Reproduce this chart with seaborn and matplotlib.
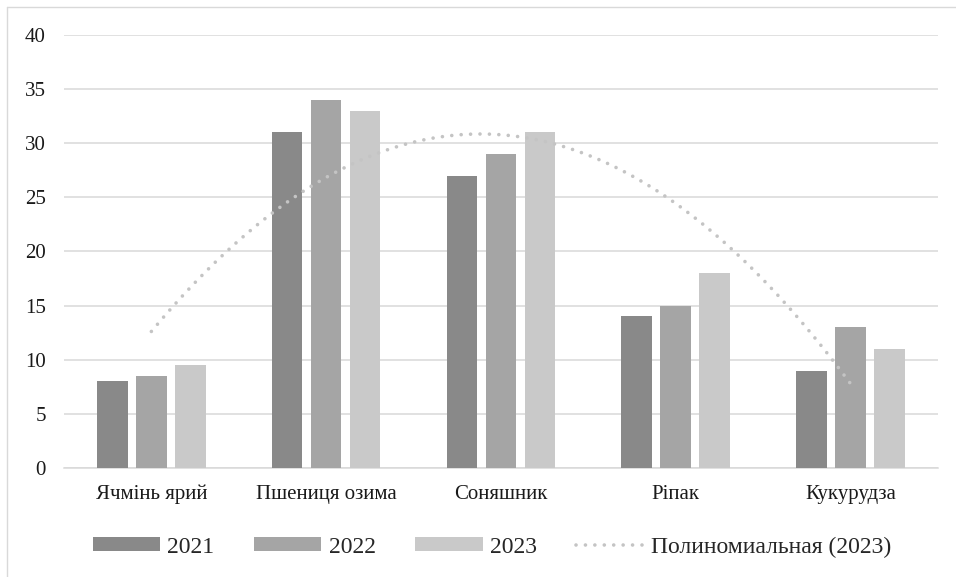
import numpy as np
import pandas as pd
import matplotlib
matplotlib.use("Agg")
import matplotlib.pyplot as plt
from matplotlib.lines import Line2D
from matplotlib.patches import Patch
import seaborn as sns

# Crop yields by year
crops = ["Ячмінь ярий", "Пшениця озима", "Соняшник", "Ріпак", "Кукурудза"]
years = ["2021", "2022", "2023"]
y2021 = [8, 31, 27, 14, 9]
y2022 = [8.5, 34, 29, 15, 13]
y2023 = [9.5, 33, 31, 18, 11]
yticks = [0, 5, 10, 15, 20, 25, 30, 35, 40]
trend_label = "Полиномиальная (2023)"

colors = ["#898989", "#a5a5a5", "#c9c9c9"]
trend_color = "#c4c4c4"
dotted = (0, (0.01, 2.6))

df = pd.DataFrame({
    "crop": crops * 3,
    "year": [y for y in years for _ in crops],
    "value": y2021 + y2022 + y2023,
})

sns.set_theme(style="white")
plt.rcParams["font.family"] = ["Liberation Serif", "DejaVu Serif"]

W, H = 956, 577
fig = plt.figure(figsize=(W / 100, H / 100), dpi=100)
ax = fig.add_axes([64 / W, 1 - 468 / H, (937.7 - 64) / W, (468 - 35) / H])

sns.barplot(data=df, x="crop", y="value", hue="year", order=crops,
            hue_order=years, palette=colors, width=0.67, gap=0.216,
            saturation=1, edgecolor="none", legend=False, ax=ax, zorder=3)

# Second-order polynomial trend over the 2023 series
xs = np.arange(len(crops))
coef = np.polyfit(xs, y2023, 2)
xf = np.linspace(0, len(crops) - 1, 200)
sns.lineplot(x=xf, y=np.polyval(coef, xf), ax=ax, color=trend_color,
             lw=2.6, linestyle=dotted, dash_capstyle="round",
             zorder=4, legend=False)

ax.set_xlim(-0.5, len(crops) - 0.5)
ax.set_ylim(0, 40)
ax.set_yticks(yticks)
ax.set_yticklabels([str(t) for t in yticks])
ax.set_xlabel("")
ax.set_ylabel("")
ax.grid(axis="y", color="#d9d9d9", lw=1.1, zorder=0)
ax.grid(axis="x", visible=False)
for s in ["top", "right", "left"]:
    ax.spines[s].set_visible(False)
ax.spines["bottom"].set_color("#d9d9d9")
ax.spines["bottom"].set_linewidth(1.1)
ax.tick_params(axis="both", length=0, colors="#1a1a1a")
ax.tick_params(axis="y", pad=13, labelsize=15)
ax.tick_params(axis="x", pad=12, labelsize=15)

# Legend along the bottom
handles = [Patch(facecolor=c, edgecolor="none") for c in colors]
handles.append(Line2D([0], [0], color=trend_color, lw=2.6,
                      linestyle=dotted, dash_capstyle="round"))
fig.legend(handles, years + [trend_label], loc="center left",
           bbox_to_anchor=(93 / W, 1 - 547 / H), ncol=4, frameon=False,
           fontsize=17, handlelength=2.85, handleheight=0.55,
           handletextpad=0.3, columnspacing=1.68, borderpad=0,
           borderaxespad=0)

# Outer frame lines (top and left)
fig.add_artist(Line2D([7 / W, 1], [1 - 6.5 / H, 1 - 6.5 / H],
                      transform=fig.transFigure, color="#d9d9d9", lw=1))
fig.add_artist(Line2D([7 / W, 7 / W], [0, 1 - 6.5 / H],
                      transform=fig.transFigure, color="#d9d9d9", lw=1))

fig.savefig("out.png", dpi=100, facecolor="white")
